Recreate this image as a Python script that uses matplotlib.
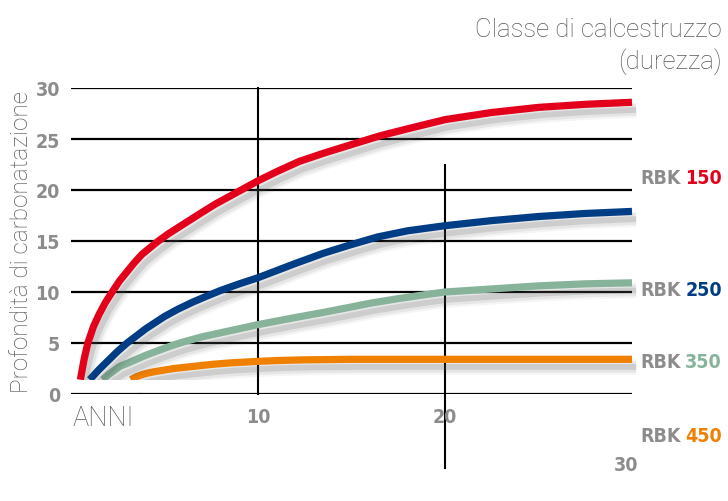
import matplotlib
matplotlib.use("Agg")
import matplotlib.pyplot as plt
import matplotlib.patheffects as pe
from matplotlib.patches import Rectangle

# ---------------- data ----------------
red_x = [0.5, 0.7, 0.9, 1.2, 1.5, 1.85, 2.2, 2.6, 3.0, 3.4, 3.8, 4.2, 4.6, 5.2, 5.8, 6.4, 7.0, 7.7, 8.5, 9.2, 10.0, 11.0, 12.2, 13.5, 14.9, 16.5, 18.0, 20.0, 22.5, 25.0, 27.5, 30.0]
red_y = [1.4, 3.4, 5.0, 6.6, 7.8, 9.0, 10.0, 11.1, 12.0, 12.9, 13.7, 14.3, 14.9, 15.7, 16.4, 17.1, 17.8, 18.6, 19.4, 20.1, 20.9, 21.8, 22.8, 23.6, 24.4, 25.3, 26.0, 26.9, 27.6, 28.1, 28.4, 28.6]

blue_x = [1.0, 1.5, 2.0, 2.5, 3.0, 3.5, 4.0, 4.5, 5.0, 5.7, 6.5, 7.2, 8.0, 9.0, 10.0, 11.0, 12.0, 13.5, 14.9, 16.4, 18.0, 20.0, 22.5, 25.0, 27.5, 30.0]
blue_y = [1.4, 2.4, 3.3, 4.2, 5.0, 5.7, 6.4, 7.0, 7.6, 8.3, 9.0, 9.55, 10.15, 10.8, 11.4, 12.1, 12.8, 13.8, 14.6, 15.4, 16.0, 16.5, 17.0, 17.4, 17.7, 17.9]

green_x = [1.7, 2.0, 2.3, 2.6, 3.0, 3.5, 4.0, 4.8, 5.4, 6.0, 7.0, 8.5, 10.0, 11.0, 12.0, 13.5, 14.9, 16.0, 17.5, 19.0, 20.0, 22.5, 25.0, 27.5, 30.0]
green_y = [1.4, 1.9, 2.3, 2.7, 3.0, 3.4, 3.8, 4.35, 4.75, 5.1, 5.6, 6.2, 6.8, 7.15, 7.5, 8.0, 8.5, 8.9, 9.35, 9.75, 10.0, 10.3, 10.6, 10.8, 10.9]

orange_x = [3.2, 3.5, 3.8, 4.1, 4.5, 5.0, 5.5, 6.0, 6.5, 7.5, 8.5, 10.0, 11.0, 12.5, 15.0, 17.5, 20.0, 25.0, 30.0]
orange_y = [1.4, 1.7, 1.9, 2.05, 2.2, 2.35, 2.5, 2.6, 2.7, 2.9, 3.05, 3.2, 3.28, 3.35, 3.4, 3.4, 3.4, 3.4, 3.4]

series_names = ["150", "250", "350", "450"]
series_colors = ["#e2001a", "#003d85", "#86b39a", "#f08000"]

y_ticks = [0, 5, 10, 15, 20, 25, 30]
x_ticks = [10, 20, 30]

# ---------------- fonts ----------------
cond = "DejaVu Sans"
light = "Roboto"
GRAY = "#8c8c8c"
LGRAY = "#595959"

W, H = 728, 502
fig = plt.figure(figsize=(W / 100, H / 100), dpi=100)

def fx(px):
    return px / W

def fy(py):
    return 1 - py / H

ax = fig.add_axes([fx(71), fy(395), fx(632) - fx(71), fy(89) - fy(395)])
ax.set_xlim(0, 30)
ax.set_ylim(0, 30)
for s in ax.spines.values():
    s.set_visible(False)
ax.set_xticks([])
ax.set_yticks(y_ticks)
ax.set_yticklabels([str(v) for v in y_ticks], fontfamily=cond, fontweight="bold",
                   fontstretch="condensed", fontsize=14, color=GRAY)
ax.tick_params(axis="y", length=0, pad=8)

# gridlines
for v in y_ticks:
    ax.axhline(v, color="black", lw=1.6, zorder=1)
ax.plot([10, 10], [0, 30], color="black", lw=1.5, zorder=1, clip_on=False)
ax.plot([20, 20], [22.5, -7.3], color="black", lw=1.5, zorder=1, clip_on=False)

# curves with soft drop shadow
LW = 5.2
def shadow_effects():
    off = (3.0, -5.5)
    return [
        pe.SimpleLineShadow(offset=off, shadow_color="#555555", alpha=0.06, rho=1, linewidth=LW + 6),
        pe.SimpleLineShadow(offset=off, shadow_color="#555555", alpha=0.09, rho=1, linewidth=LW + 3),
        pe.SimpleLineShadow(offset=off, shadow_color="#555555", alpha=0.17, rho=1, linewidth=LW - 1),
        pe.Normal(),
    ]

all_x = [red_x, blue_x, green_x, orange_x]
all_y = [red_y, blue_y, green_y, orange_y]
for xs, ys, c, z in zip(all_x, all_y, series_colors, [5, 4, 3, 2]):
    ax.plot(xs, ys, color=c, lw=LW, solid_capstyle="butt", solid_joinstyle="round",
            zorder=z, path_effects=shadow_effects(), clip_on=False)

# white mask at bottom-left (hides shadows below curve starts)
ax.add_patch(Rectangle((0, 0.18), 8.4, 1.17, facecolor="white", edgecolor="none", zorder=6))

# x labels
ax.text(0.1, -2.3, "ANNI", fontfamily=light, fontweight="light", fontsize=19.5,
        color=LGRAY, ha="left", va="center")
x_label_pos = {10: -2.2, 20: -2.2, 30: -6.9}
for v in x_ticks:
    ax.text(v - (0.3 if v == 30 else 0), x_label_pos[v], str(v), fontfamily=cond,
            fontweight="bold", fontstretch="condensed", fontsize=14, color=GRAY,
            ha="center", va="center", clip_on=False)

# y axis label
fig.text(fx(22), fy(242), "Profondità di carbonatazione", rotation=90,
         fontfamily=light, fontweight="light", fontsize=17.5, color=LGRAY,
         ha="center", va="center")

# top-right caption
fig.text(fx(722), fy(30), "Classe di calcestruzzo", fontfamily=light, fontweight="light",
         fontsize=18.5, color=LGRAY, ha="right", va="center")
fig.text(fx(722), fy(62), "(durezza)", fontfamily=light, fontweight="light",
         fontsize=18.5, color=LGRAY, ha="right", va="center")

# right-side class labels: number right-aligned, "RBK" placed just before it
label_py = [178, 290, 362, 437]
renderer = fig.canvas.get_renderer()
for name, c, py in zip(series_names, series_colors, label_py):
    tn = fig.text(fx(722), fy(py), name, fontfamily=cond, fontweight="bold",
                  fontstretch="condensed", fontsize=14, color=c, ha="right", va="center")
    bb = tn.get_window_extent(renderer)
    fig.text(bb.x0 / W - 5 / W, fy(py), "RBK", fontfamily=cond, fontweight="bold",
             fontstretch="condensed", fontsize=14, color=GRAY, ha="right", va="center")

fig.savefig("out.png", dpi=100)
